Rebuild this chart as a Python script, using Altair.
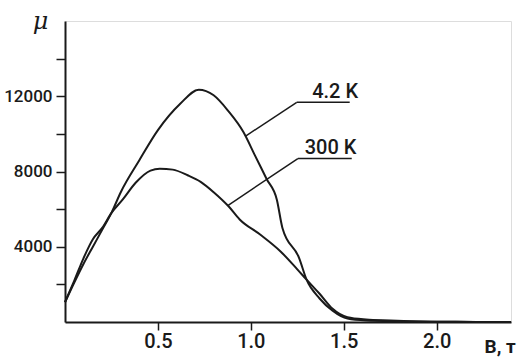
import altair as alt
import pandas as pd

# 4.2 K curve
b_42 = [0.0, 0.05, 0.10, 0.15, 0.20, 0.25, 0.30, 0.40, 0.50, 0.62, 0.72, 0.80, 0.88, 0.96, 1.02,
        1.085, 1.14, 1.17, 1.26, 1.30, 1.37, 1.44, 1.52, 1.62, 1.80, 2.0, 2.2, 2.4]
mu_42 = [1050, 2100, 3100, 4000, 4900, 5800, 6900, 8600, 10200, 11600, 12350, 12050, 11200, 10100, 8900,
         7600, 6500, 5000, 3400, 2250, 1250, 600, 180, 80, 40, 15, 5, 0]

# 300 K curve
b_300 = [0.0, 0.05, 0.10, 0.15, 0.20, 0.25, 0.31, 0.38, 0.46, 0.51, 0.58, 0.66, 0.73, 0.80, 0.88,
         0.94, 1.05, 1.16, 1.25, 1.30, 1.37, 1.44, 1.52, 1.62, 1.75, 1.9, 2.1, 2.4]
mu_300 = [1050, 2200, 3400, 4400, 5000, 5800, 6500, 7400, 8050, 8150, 8100, 7800, 7450, 6900, 6150,
          5450, 4650, 3750, 2800, 2250, 1500, 700, 250, 130, 80, 30, 10, 0]

labels = ["4.2 K", "300 K"]
label_x = [1.33, 1.29]
label_y = [11900, 8950]
leader_x0 = [0.97, 0.876]
leader_y0 = [9870, 6190]
leader_x1 = [1.247, 1.253]
leader_y1 = [11680, 8690]
underline_x2 = [1.532, 1.543]

x_ticks = [0.5, 1.0, 1.5, 2.0]
y_ticks = [2000, 4000, 6000, 8000, 10000, 12000, 14000]

FONT = "Roboto, Liberation Sans, sans-serif"
INK = "#1a1a1a"

curves = pd.concat([
    pd.DataFrame({"B": b_42, "mu": mu_42, "T": "4.2 K"}),
    pd.DataFrame({"B": b_300, "mu": mu_300, "T": "300 K"}),
])

leaders = pd.DataFrame({
    "x": leader_x0 + leader_x1,
    "y": leader_y0 + leader_y1,
    "x2": leader_x1 + underline_x2,
    "y2": leader_y1 + leader_y1,
})

texts = pd.DataFrame({"label": labels, "x": label_x, "y": label_y})

xscale = alt.Scale(domain=[0, 2.4], nice=False)
yscale = alt.Scale(domain=[0, 16000], nice=False)

lines = alt.Chart(curves).mark_line(color=INK, strokeWidth=2, interpolate="monotone").encode(
    x=alt.X("B:Q", scale=xscale, axis=alt.Axis(
        values=x_ticks, format=".1f", tickSize=8, tickWidth=1.5, tickColor=INK,
        labelFont=FONT, labelFontSize=20, labelFontWeight=500, labelColor=INK, labelPadding=1,
        domainColor=INK, domainWidth=2, grid=False,
        title="B, т", titleFont=FONT, titleFontSize=19, titleFontWeight="bold", titleColor=INK,
        titleAlign="left", titleX=419, titleY=30, titleBaseline="alphabetic")),
    y=alt.Y("mu:Q", scale=yscale, axis=alt.Axis(
        values=y_ticks, format="d", tickSize=9, tickWidth=1.5, tickColor=INK,
        labelExpr="datum.value % 4000 == 0 ? datum.label : ''",
        labelFont=FONT, labelFontSize=17, labelFontWeight=500, labelColor=INK, labelPadding=4,
        domainColor=INK, domainWidth=2, grid=False,
        title="μ", titleFont="DejaVu Serif", titleFontSize=24, titleFontStyle="italic",
        titleFontWeight="normal", titleColor=INK, titleAngle=0, titleAlign="center",
        titleX=-25, titleY=7, titleBaseline="alphabetic")),
    detail="T:N",
)

leader_rules = alt.Chart(leaders).mark_rule(color=INK, strokeWidth=1.5).encode(
    x="x:Q", y="y:Q", x2="x2:Q", y2="y2:Q"
)

label_text = alt.Chart(texts).mark_text(
    font=FONT, fontSize=20, fontWeight=500, color=INK, align="left", baseline="alphabetic"
).encode(x="x:Q", y="y:Q", text="label:N")

chart = alt.layer(lines, leader_rules, label_text).properties(
    width=446, height=301,
    padding={"left": 65, "top": 21, "right": 6, "bottom": 36},
    autosize=alt.AutoSizeParams(type="none"),
).configure_view(stroke=INK, strokeWidth=2).configure(background="white")

chart.save("out.html", embed_options={"renderer": "svg", "actions": False})
